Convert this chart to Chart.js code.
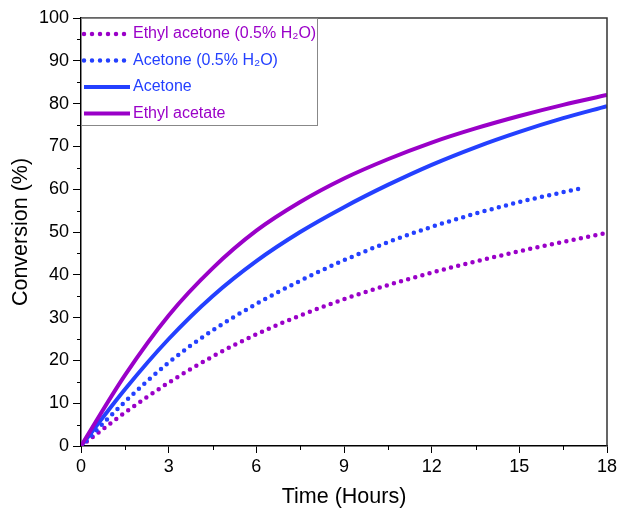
<!DOCTYPE html>
<html>
<head>
<meta charset="utf-8">
<script src="https://cdn.jsdelivr.net/npm/chart.js@4/dist/chart.umd.min.js"></script>
<style>
  html, body { margin: 0; padding: 0; background: #fff; }
  #wrap { width: 618px; height: 512px; position: relative; }
</style>
</head>
<body>
<div id="wrap"><canvas id="convChart" width="618" height="512"></canvas></div>
<script>
// time axis (hours)
const hours = [0, 1.5, 3, 4.5, 6, 7.5, 9, 10.5, 12, 13.5, 15, 16.5, 18];
const waterAcetoneHours = [0, 1.5, 3, 4.5, 6, 7.5, 9, 10.5, 12, 13.5, 15, 16.5, 17.2];

// conversion (%)
const ethylAcetate = [0, 16.5, 30.5, 41.5, 50.3, 57, 62.5, 67, 70.9, 74.2, 77.1, 79.7, 82.0];
const acetone = [0, 13.2, 25, 35, 43.2, 50, 55.8, 61, 65.7, 69.8, 73.4, 76.6, 79.4];
const acetoneWater = [0, 10.3, 19.5, 27, 33.2, 38.6, 43.4, 47.6, 51.2, 54.3, 57, 59.3, 60.3];
const ethylAcetoneWater = [0, 7.8, 14.8, 20.9, 26.1, 30.5, 34.3, 37.6, 40.5, 43.1, 45.5, 47.7, 49.8];

const xTicks = [0, 3, 6, 9, 12, 15, 18];
const yTicks = [0, 10, 20, 30, 40, 50, 60, 70, 80, 90, 100];

const PURPLE = '#9a00c8';
const BLUE = '#2440ff';
const FONT = "'Liberation Sans', Arial, sans-serif";

const toPoints = (xs, ys) => xs.map((x, i) => ({ x: x, y: ys[i] }));

function dotted(label, xs, ys, color) {
    return {
        label: label,
        data: toPoints(xs, ys),
        borderColor: color,
        borderWidth: 4.5,
        borderDash: [0, 7.4],
        borderCapStyle: 'round',
        pointRadius: 0,
        cubicInterpolationMode: 'monotone',
        fill: false
    };
}

function solid(label, xs, ys, color) {
    return {
        label: label,
        data: toPoints(xs, ys),
        borderColor: color,
        borderWidth: 4,
        pointRadius: 0,
        cubicInterpolationMode: 'monotone',
        fill: false
    };
}

// minor ticks, plot frame and the boxed legend inside the plot
const framePlugin = {
    id: 'frame',
    afterDraw(chart) {
        const ctx = chart.ctx;
        const a = chart.chartArea;
        const xs = chart.scales.x, ys = chart.scales.y;
        ctx.save();
        ctx.strokeStyle = '#333';
        ctx.lineWidth = 1.5;
        ctx.beginPath();
        ctx.moveTo(a.left, a.top);
        ctx.lineTo(a.right, a.top);
        ctx.lineTo(a.right, a.bottom);
        ctx.stroke();

        // minor ticks
        ctx.lineWidth = 1;
        ctx.strokeStyle = '#000';
        ctx.beginPath();
        for (let v = 1.5; v < 18; v += 3) {
            const px = Math.round(xs.getPixelForValue(v)) + 0.5;
            ctx.moveTo(px, a.bottom);
            ctx.lineTo(px, a.bottom + 4);
        }
        for (let v = 5; v < 100; v += 10) {
            const py = Math.round(ys.getPixelForValue(v)) + 0.5;
            ctx.moveTo(a.left, py);
            ctx.lineTo(a.left - 4, py);
        }
        ctx.stroke();

        // legend box
        const order = [3, 2, 1, 0];
        const boxW = 236, rowH = 26.5;
        ctx.strokeStyle = '#888';
        ctx.lineWidth = 1;
        ctx.strokeRect(a.left + 0.5, a.top + 0.5, boxW, 107);
        ctx.font = '16px ' + FONT;
        ctx.textBaseline = 'middle';
        order.forEach((idx, row) => {
            const ds = chart.data.datasets[idx];
            const y = a.top + 16 + row * rowH;
            ctx.strokeStyle = ds.borderColor;
            ctx.lineWidth = ds.borderWidth;
            ctx.lineCap = ds.borderCapStyle || 'butt';
            ctx.setLineDash(ds.borderDash ? [0, 8] : []);
            ctx.beginPath();
            ctx.moveTo(a.left + 3, y);
            ctx.lineTo(a.left + (ds.borderDash ? 44 : 49), y);
            ctx.stroke();
            ctx.setLineDash([]);
            ctx.fillStyle = ds.borderColor;
            ctx.fillText(ds.label, a.left + 52, y);
        });
        ctx.restore();
    }
};

const ctx = document.getElementById('convChart').getContext('2d');

new Chart(ctx, {
    type: 'line',
    data: {
        datasets: [
            solid('Ethyl acetate', hours, ethylAcetate, PURPLE),
            solid('Acetone', hours, acetone, BLUE),
            dotted('Acetone (0.5% H\u2082O)', waterAcetoneHours, acetoneWater, BLUE),
            dotted('Ethyl acetone (0.5% H\u2082O)', hours, ethylAcetoneWater, PURPLE)
        ]
    },
    options: {
        responsive: false,
        animation: false,
        layout: { padding: { top: 18, right: 11, left: 0, bottom: 0 } },
        plugins: {
            legend: { display: false },
            tooltip: { enabled: false }
        },
        scales: {
            x: {
                type: 'linear',
                min: 0,
                max: 18,
                afterBuildTicks: (scale) => { scale.ticks = xTicks.map(v => ({ value: v })); },
                afterFit: (scale) => {
                    scale.height = 66;
                    scale.paddingLeft = 0;
                    scale.paddingRight = 0;
                },
                ticks: {
                    color: '#000',
                    font: { size: 18, family: FONT },
                    padding: 3,
                    maxRotation: 0
                },
                grid: {
                    drawOnChartArea: false,
                    tickLength: 7,
                    tickColor: '#000'
                },
                border: { color: '#000', width: 1.5 },
                title: {
                    display: true,
                    text: 'Time (Hours)',
                    color: '#000',
                    font: { size: 21.5, family: FONT },
                    padding: { top: 4, bottom: 2 }
                }
            },
            y: {
                min: 0,
                max: 100,
                afterBuildTicks: (scale) => { scale.ticks = yTicks.map(v => ({ value: v })); },
                afterFit: (scale) => { scale.width = 81; },
                ticks: {
                    color: '#000',
                    font: { size: 18, family: FONT },
                    padding: 4
                },
                grid: {
                    drawOnChartArea: false,
                    tickLength: 8,
                    tickColor: '#000'
                },
                border: { color: '#000', width: 1.5 },
                title: {
                    display: true,
                    text: 'Conversion (%)',
                    color: '#000',
                    font: { size: 21.5, family: FONT },
                    padding: { top: 8, bottom: 2 }
                }
            }
        }
    },
    plugins: [framePlugin]
});
</script>
</body>
</html>
